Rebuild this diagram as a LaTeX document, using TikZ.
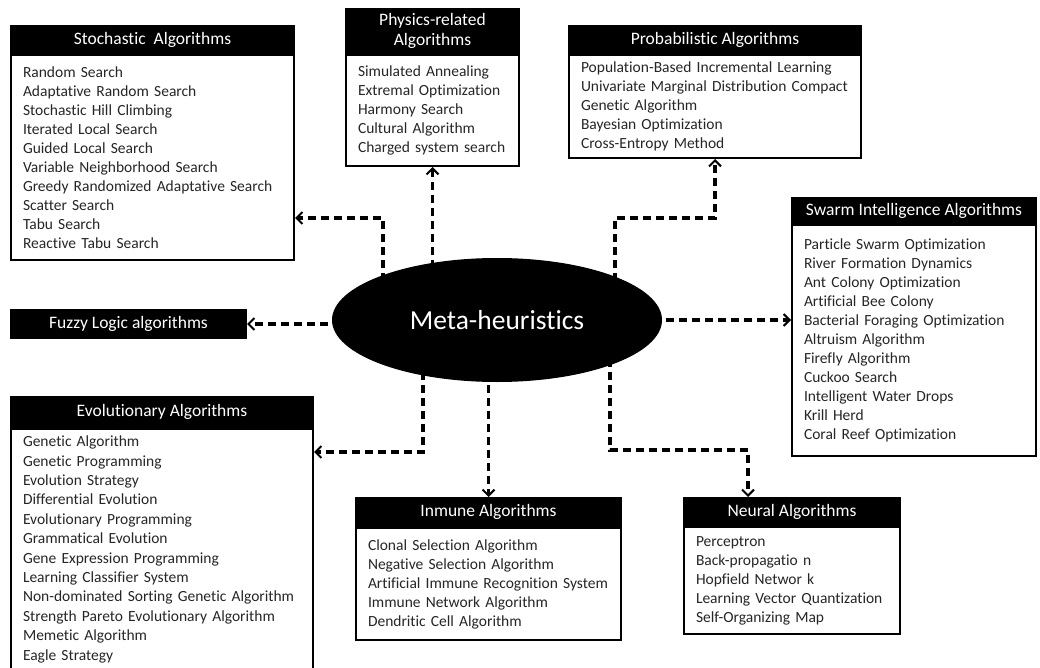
\documentclass[tikz,border=0pt]{standalone}
\usepackage{fontspec}
\setmainfont{Carlito}[Ligatures=NoCommon]
\usetikzlibrary{positioning,shapes.geometric,arrows.meta,backgrounds}

\tikzset{
  hdr/.style={draw=black, fill=black, text=white, line width=2pt, inner sep=0pt,
    font=\fontsize{17.5}{20}\selectfont, align=center, anchor=north west},
  lst/.style={draw=black, fill=white, line width=2pt, inner xsep=12pt, inner ysep=0pt,
    font=\fontsize{15.5}{19}\selectfont, text=black!85, align=left},
  link/.style={line width=3.5pt, dash pattern=on 8pt off 5pt,
    -{Straight Barb[length=6pt,width=12pt,line width=2pt]}},
}

\begin{document}
\begin{tikzpicture}[x=1pt, y=-1pt]
  \useasboundingbox (0,0) rectangle (1040,668);

  % centre
  \node[ellipse, fill=black, text=white, minimum width=330pt, minimum height=124pt,
    inner sep=0pt, font=\fontsize{27.5}{30}\selectfont] (meta) at (497,320) {Meta-heuristics};

  % stochastic
  \node[hdr, minimum width=283pt, minimum height=27pt] (stochhdr) at (10,25) {Stochastic\ \ Algorithms};
  \node[lst, text width=259pt, minimum height=205pt, below=0pt of stochhdr] (stochbody)
    {Random Search\\ Adaptative Random Search\\ Stochastic Hill Climbing\\ Iterated Local Search\\
     Guided Local Search\\ Variable Neighborhood Search\\ Greedy Randomized Adaptative Search\\
     Scatter Search\\ Tabu Search\\ Reactive Tabu Search};

  % physics
  \node[hdr, minimum width=173pt, minimum height=44pt] (physhdr) at (345,8) {Physics-related\\ Algorithms};
  \node[lst, text width=149pt, minimum height=111pt, below=0pt of physhdr] (physbody)
    {Simulated Annealing\\ Extremal Optimization\\ Harmony Search\\ Cultural Algorithm\\ Charged system search};

  % probabilistic
  \node[hdr, minimum width=292pt, minimum height=27pt] (probhdr) at (568,25) {Probabilistic Algorithms};
  \node[lst, text width=268pt, minimum height=103pt, below=0pt of probhdr] (probbody)
    {Population-Based Incremental Learning\\ Univariate Marginal Distribution Compact\\
     Genetic Algorithm\\ Bayesian Optimization\\ Cross-Entropy Method};

  % swarm
  \node[hdr, minimum width=244pt, minimum height=25pt] (swarmhdr) at (791,197) {Swarm Intelligence Algorithms};
  \node[lst, text width=220pt, minimum height=231pt, below=0pt of swarmhdr] (swarmbody)
    {Particle Swarm Optimization\\ River Formation Dynamics\\ Ant Colony Optimization\\
     Artificial Bee Colony\\ Bacterial Foraging Optimization\\ Altruism Algorithm\\
     Firefly Algorithm\\ Cuckoo Search\\ Intelligent Water Drops\\ Krill Herd\\ Coral Reef Optimization};

  % fuzzy
  \node[hdr, minimum width=235pt, minimum height=28pt] (fuzzy) at (10,309) {Fuzzy Logic algorithms};

  % evolutionary
  \node[hdr, minimum width=302pt, minimum height=30pt] (evohdr) at (10,396) {Evolutionary Algorithms};
  \node[lst, text width=278pt, inner ysep=7pt, font=\fontsize{15.5}{19.4}\selectfont,
    below=0pt of evohdr] (evobody)
    {Genetic Algorithm\\ Genetic Programming\\ Evolution Strategy\\ Differential Evolution\\
     Evolutionary Programming\\ Grammatical Evolution\\ Gene Expression Programming\\
     Learning Classifier System\\ Non-dominated Sorting Genetic Algorithm\\
     Strength Pareto Evolutionary Algorithm\\ Memetic Algorithm\\ Eagle Strategy};

  % immune
  \node[hdr, minimum width=265pt, minimum height=28pt] (immhdr) at (355,497) {Inmune Algorithms};
  \node[lst, text width=241pt, minimum height=112pt, below=0pt of immhdr] (immbody)
    {Clonal Selection Algorithm\\ Negative Selection Algorithm\\ Artificial Immune Recognition System\\
     Immune Network Algorithm\\ Dendritic Cell Algorithm};

  % neural
  \node[hdr, minimum width=216pt, minimum height=27pt] (neurhdr) at (683,497) {Neural Algorithms};
  \node[lst, text width=192pt, minimum height=107pt, below=0pt of neurhdr] (neurbody)
    {Perceptron\\ Back-propagatio n\\ Hopfield Networ k\\ Learning Vector Quantization\\ Self-Organizing Map};

  % bends
  \coordinate (stochbend) at (383,218);
  \coordinate (probbend) at (615,218);
  \coordinate (evobend) at (423,452);
  \coordinate (neurbend) at (610,450);
  \coordinate (neurdrop) at (748,450);

  \begin{scope}[on background layer]
    \draw[link] (stochbend |- meta.center) -- (stochbend) -- (stochbend -| stochbody.east);
    \draw[link] (physbody.south |- meta.center) -- (physbody.south);
    \draw[link] (probbend |- meta.center) -- (probbend) -- (probbend -| probbody.south) -- (probbody.south);
    \draw[link] (meta.center) -- (meta.center -| swarmbody.west);
    \draw[link] (meta.center |- fuzzy) -- (fuzzy.east);
    \draw[link] (evobend |- meta.center) -- (evobend) -- (evobend -| evobody.east);
    \draw[link] (immhdr.north |- meta.center) -- (immhdr.north);
    \draw[link] (neurbend |- meta.center) -- (neurbend) -- (neurdrop) -- (neurdrop |- neurhdr.north);
  \end{scope}
\end{tikzpicture}
\end{document}
